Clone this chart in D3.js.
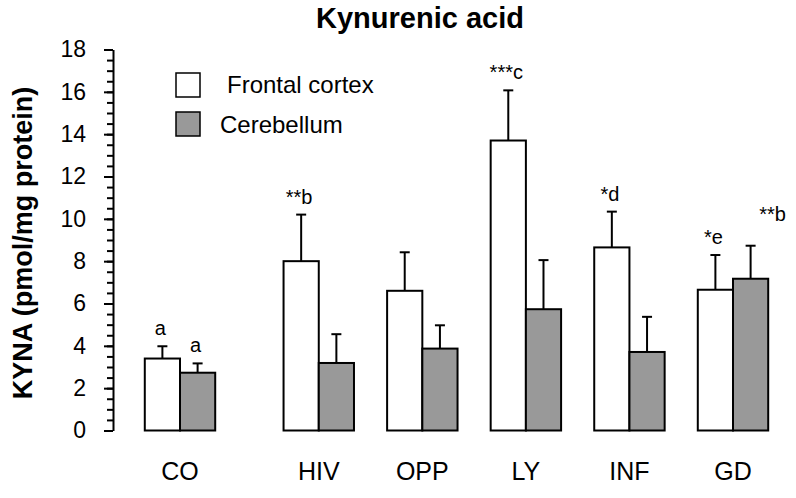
<!DOCTYPE html>
<html>
<head>
<meta charset="utf-8">
<script src="https://cdn.jsdelivr.net/npm/d3@7"></script>
<style>
  body { margin: 0; background: #fff; }
  text { font-family: "Liberation Sans", Arial, sans-serif; fill: #000; }
</style>
</head>
<body>
<div id="chart"></div>
<script>
// Kynurenic acid bar chart

// Data
const categories = ['CO', 'HIV', 'OPP', 'LY', 'INF', 'GD'];
const frontal = [3.4, 8.0, 6.6, 13.7, 8.65, 6.65];
const frontalErr = [0.58, 2.2, 1.82, 2.37, 1.69, 1.64];
const cerebellum = [2.73, 3.19, 3.87, 5.73, 3.71, 7.17];
const cerebellumErr = [0.44, 1.36, 1.1, 2.32, 1.66, 1.56];
const frontalLabels = ['a', '**b', '', '***c', '*d', '*e'];
const cerebellumLabels = ['a', '', '', '', '', '**b'];
const yTicks = [0, 2, 4, 6, 8, 10, 12, 14, 16, 18];
const seriesNames = ['Frontal cortex', 'Cerebellum'];

const width = 796, height = 498;
const gray = '#999999';

const svg = d3.select('#chart').append('svg')
    .attr('width', width)
    .attr('height', height);

// Scales
const y = d3.scaleLinear()
    .domain([0, 18])
    .range([430.5, 49.5]);

// CO sits a little apart from the other groups
const gap = 0.34;
const slot = i => i === 0 ? 0 : i + gap;
const x = d3.scaleLinear()
    .domain([0, categories.length - 1 + gap])
    .range([180, 733]);
const step = x(1) - x(0);
const barW = step * 0.34;

// Y axis: minor ticks every 0.5, major every 2
svg.append('g')
   .attr('transform', 'translate(113,0)')
   .call(d3.axisLeft(y)
           .tickValues(d3.range(0, 18.01, 0.5))
           .tickSize(6)
           .tickSizeOuter(0)
           .tickFormat(''))
   .call(g => g.selectAll('line').attr('stroke', '#000').attr('stroke-width', 2))
   .call(g => g.select('.domain').attr('stroke', '#000').attr('stroke-width', 2));

svg.append('g')
   .attr('transform', 'translate(113,0)')
   .call(d3.axisLeft(y)
           .tickValues(yTicks)
           .tickSize(9)
           .tickPadding(18))
   .call(g => g.select('.domain').remove())
   .call(g => g.selectAll('line').attr('stroke', '#000').attr('stroke-width', 2))
   .call(g => g.selectAll('text')
       .attr('font-size', 23)
       .attr('fill', '#000')
       .style('font-family', '"Liberation Sans", Arial, sans-serif'));

// Bars
const series = [
  {vals: frontal, err: frontalErr, labels: frontalLabels, fill: '#fff', off: -1},
  {vals: cerebellum, err: cerebellumErr, labels: cerebellumLabels, fill: gray, off: 0}
];

series.forEach((s, si) => {
  const g = svg.append('g');
  const rows = categories.map((c, i) => ({c, i, v: s.vals[i], e: s.err[i], lab: s.labels[i]}));
  const bx = d => x(slot(d.i)) + s.off * barW;

  // error bars (upper only)
  g.selectAll('line.err')
   .data(rows)
   .join('line')
     .attr('x1', d => bx(d) + barW / 2)
     .attr('x2', d => bx(d) + barW / 2)
     .attr('y1', d => y(d.v))
     .attr('y2', d => y(d.v + d.e))
     .attr('stroke', '#000')
     .attr('stroke-width', 2);

  g.selectAll('line.cap')
   .data(rows)
   .join('line')
     .attr('x1', d => bx(d) + barW / 2 - 5)
     .attr('x2', d => bx(d) + barW / 2 + 5)
     .attr('y1', d => y(d.v + d.e))
     .attr('y2', d => y(d.v + d.e))
     .attr('stroke', '#000')
     .attr('stroke-width', 2);

  g.selectAll('rect')
   .data(rows)
   .join('rect')
     .attr('x', bx)
     .attr('y', d => y(d.v))
     .attr('width', barW)
     .attr('height', d => y(0) - y(d.v))
     .attr('fill', s.fill)
     .attr('stroke', '#000')
     .attr('stroke-width', 2);

  // significance letters
  const last = si === 1;
  g.selectAll('text')
   .data(rows.filter(d => d.lab))
   .join('text')
     .attr('x', d => bx(d) + barW / 2 + (last && d.i === categories.length - 1 ? 22 : -2))
     .attr('y', d => y(d.v + d.e) - (last && d.i === categories.length - 1 ? 25 : 11))
     .attr('text-anchor', 'middle')
     .attr('font-size', 20)
     .text(d => d.lab);
});

// Category labels
svg.append('g')
   .selectAll('text')
   .data(categories)
   .join('text')
     .attr('x', (d, i) => x(slot(i)))
     .attr('y', 480)
     .attr('text-anchor', 'middle')
     .attr('font-size', 25)
     .text(d => d);

// Legend
const legend = svg.append('g');
seriesNames.forEach((name, i) => {
  legend.append('rect')
     .attr('x', 176)
     .attr('y', 73 + i * 39)
     .attr('width', 24)
     .attr('height', 24)
     .attr('fill', i === 0 ? '#fff' : gray)
     .attr('stroke', '#000')
     .attr('stroke-width', 1.5);
  legend.append('text')
     .attr('x', i === 0 ? 227 : 220)
     .attr('y', 93 + i * 39.5)
     .attr('font-size', 24)
     .text(name);
});

// Title
svg.append('text')
   .attr('x', 420)
   .attr('y', 28)
   .attr('text-anchor', 'middle')
   .attr('font-size', 29)
   .attr('font-weight', 'bold')
   .text('Kynurenic acid');

// Y axis label
svg.append('text')
   .attr('transform', 'rotate(-90)')
   .attr('x', -243)
   .attr('y', 32)
   .attr('text-anchor', 'middle')
   .attr('font-size', 27)
   .attr('font-weight', 'bold')
   .text('KYNA (pmol/mg protein)');
</script>
</body>
</html>
